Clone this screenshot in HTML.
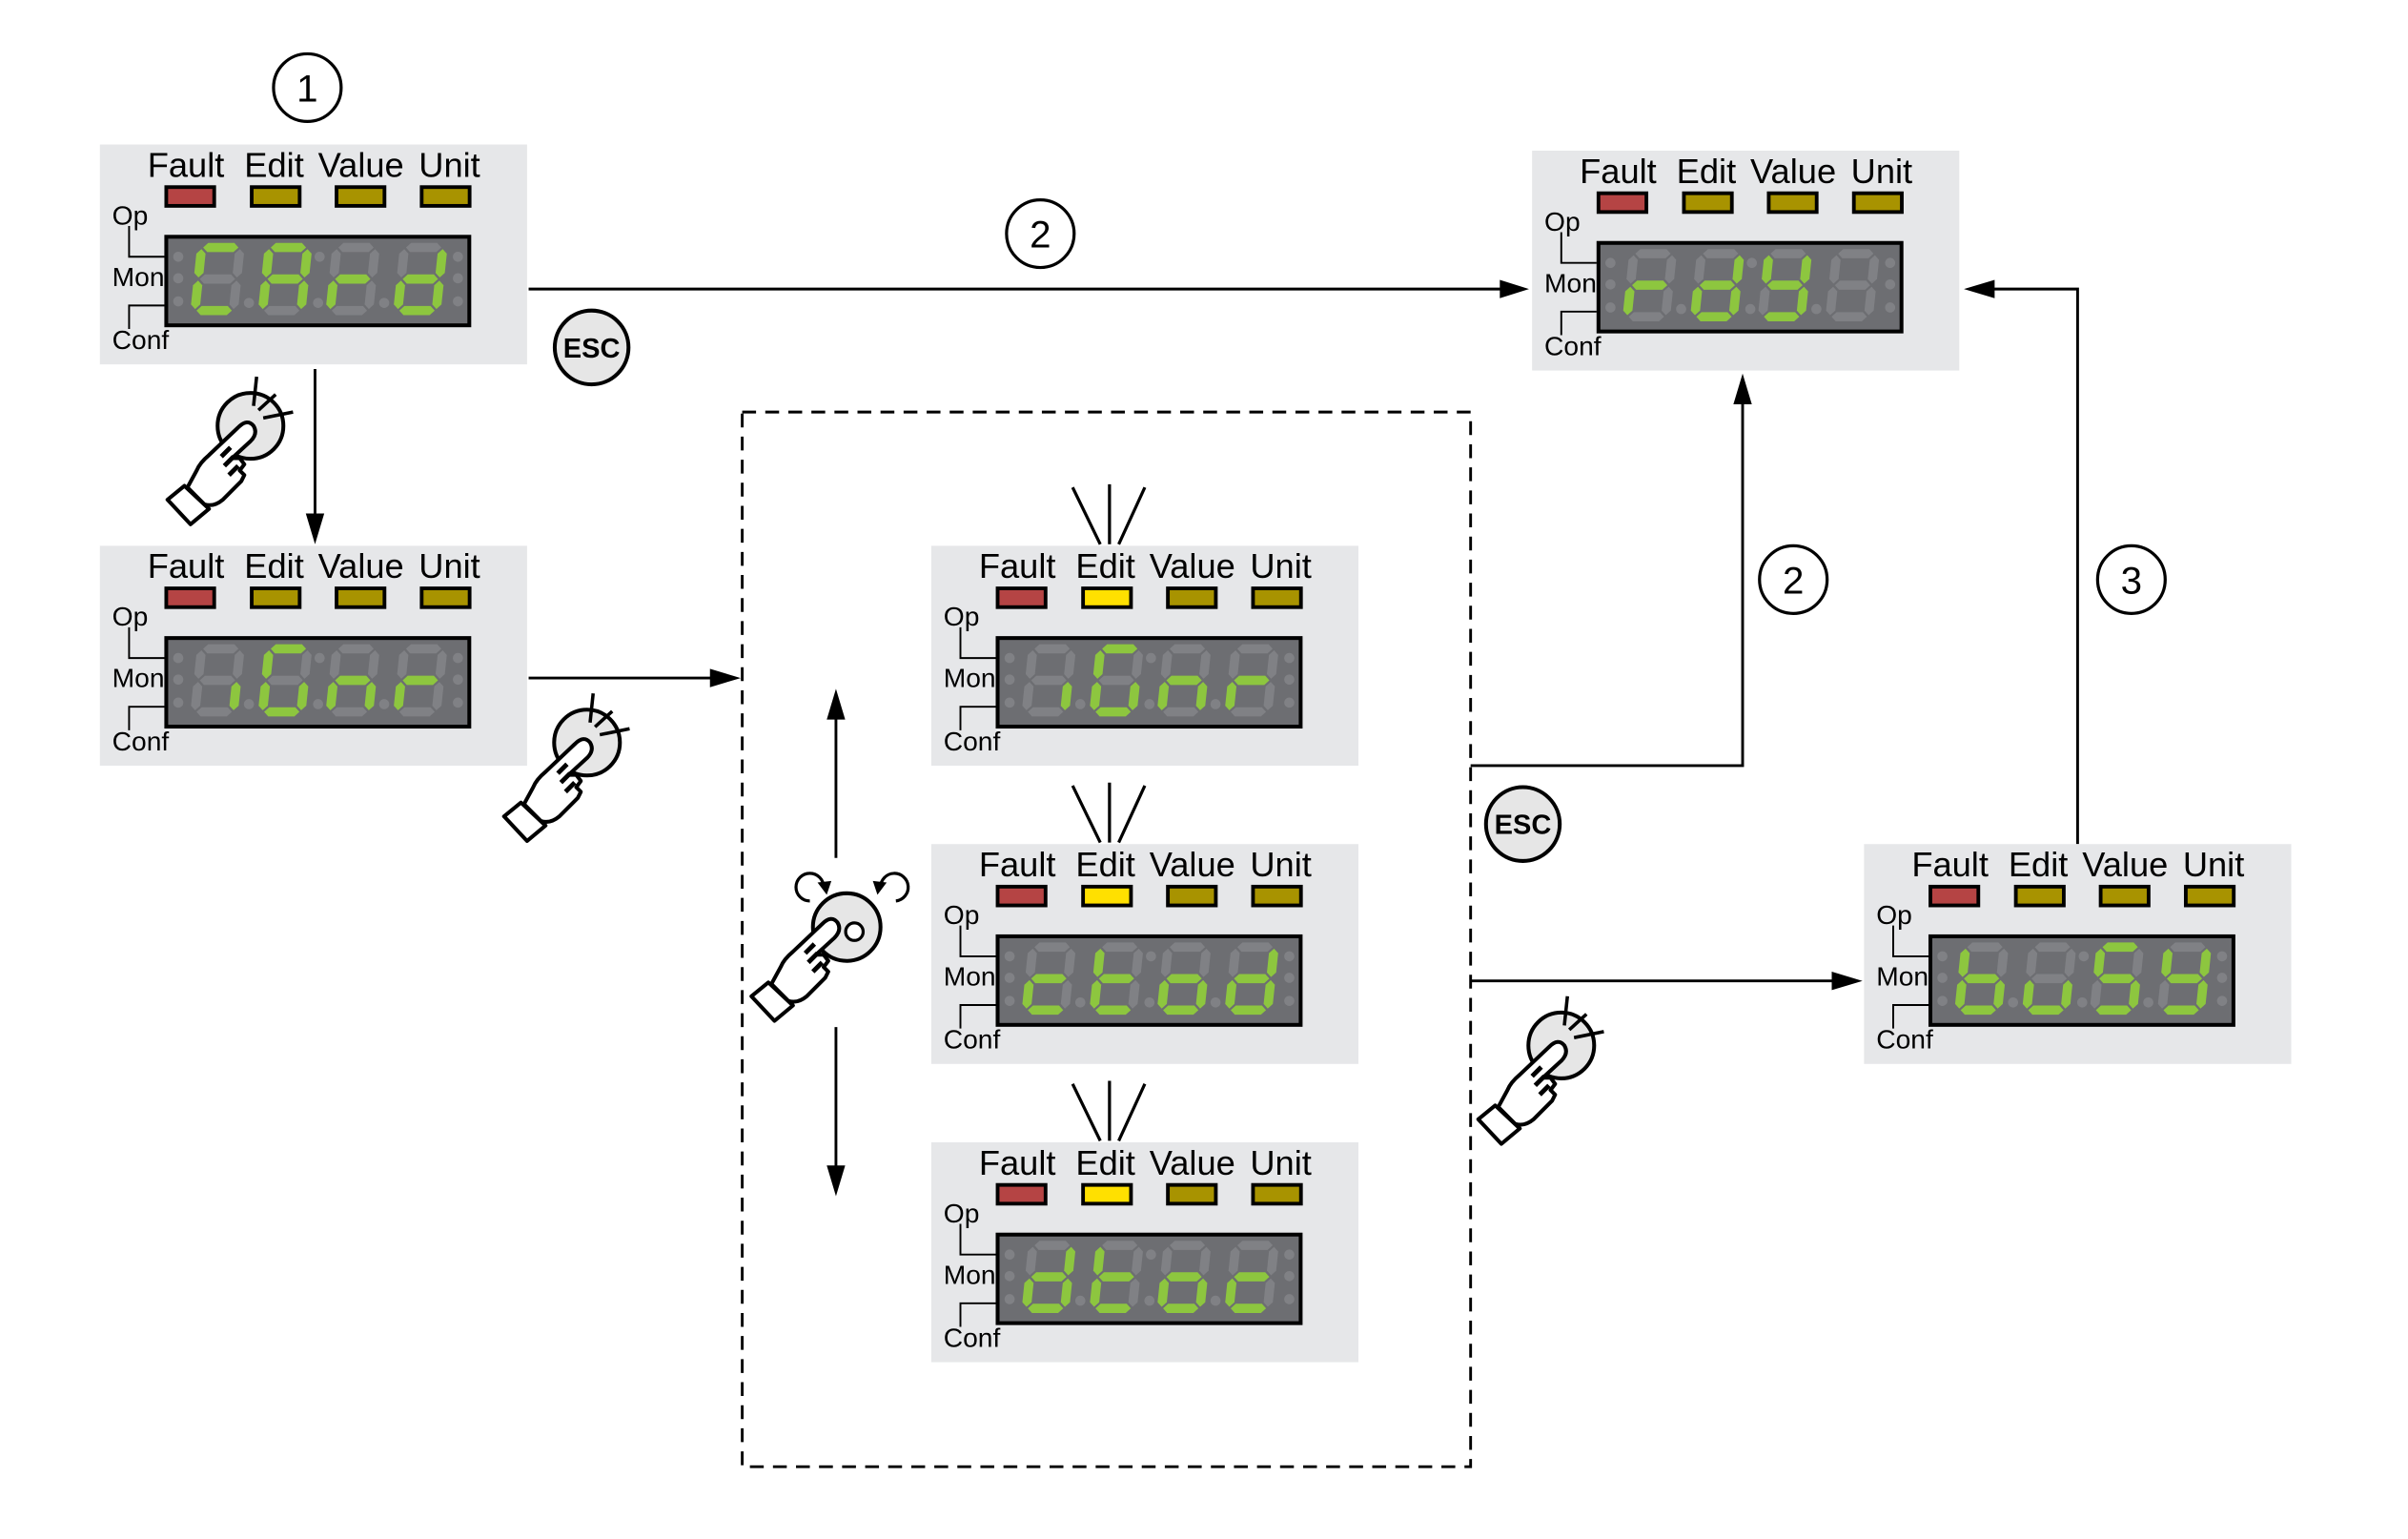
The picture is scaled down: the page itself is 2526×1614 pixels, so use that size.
<!DOCTYPE html>
<html><head><meta charset="utf-8"><style>
html,body{margin:0;padding:0;background:#fff;}
svg{display:block;}
text{font-family:"Liberation Sans",Arial,sans-serif;fill:#000;}
.lbl{font-size:22.5px;}
.sm{font-size:17.5px;}
.num{font-size:25px;}
.esc{font-size:18px;font-weight:bold;}
</style></head><body>
<svg id="s" width="2526" height="1614" viewBox="0 0 1567 1001" preserveAspectRatio="none" xmlns="http://www.w3.org/2000/svg">
<defs>
<g id="hand">
  <path d="M-51,50 L-36,66 L-24,56 L-40,41 Z" fill="#fff" stroke="#000" stroke-width="2.5" stroke-linejoin="round"/>
  <path d="M-38,42 L-32,31 Q-30,26 -24,21 L-5,3 Q1,-3 5,2 Q8,7 3,12 L-9,23 L-4,23 L-1,27 L-4,31 L-1,34 L-3,38 L-15,50 Q-21,55 -27,53 Z" fill="#fff" stroke="#000" stroke-width="2.5" stroke-linejoin="round"/>
  <path d="M-16,22 L-10,16 M-14,28 L-8,22 M-11,34 L-5,28" stroke="#000" stroke-width="3"/>
</g>
<g id="btn">
  <circle cx="0" cy="0" r="21.4" fill="#e6e6e6" stroke="#000" stroke-width="2.5"/>
</g>
<g id="spark">
  <path d="M7,-30 L5,-11 M19.4,-18.4 L8.2,-8.2 M30.7,-7 L11.3,-3.1" stroke="#000" stroke-width="2.2"/>
</g>
</defs>

<g stroke="#000" stroke-width="1.8" fill="none">
  <line x1="344" y1="188" x2="978" y2="188"/>
  <line x1="205" y1="240" x2="205" y2="336"/>
  <line x1="344" y1="441" x2="464" y2="441"/>
  <polyline points="957,498 1134,498 1134,262"/>
  <line x1="957" y1="638" x2="1194" y2="638"/>
  <polyline points="1352,549 1352,188 1296,188"/>
  <line x1="544" y1="558" x2="544" y2="466"/>
  <line x1="544" y1="668" x2="544" y2="760"/>
  <rect x="483" y="268" width="474" height="686" stroke-dasharray="9,6"/>
</g>
<g fill="#000">
  <polygon points="995,188 976,182 976,194"/>
  <polygon points="205,354 199,334 211,334"/>
  <polygon points="482,441 462,435 462,447"/>
  <polygon points="1134,243 1128,263 1140,263"/>
  <polygon points="1212,638 1192,632 1192,644"/>
  <polygon points="1278,188 1298,182 1298,194"/>
  <polygon points="544,448 538,468 550,468"/>
  <polygon points="544,778 538,758 550,758"/>
</g>

<g fill="none" stroke="#000" stroke-width="2">
  <circle cx="200" cy="57" r="22"/>
  <circle cx="677" cy="152" r="22"/>
  <circle cx="1167" cy="377" r="22"/>
  <circle cx="1387" cy="377" r="22"/>
</g>
<text class="num" x="200" y="66" text-anchor="middle">1</text>
<text class="num" x="677" y="161" text-anchor="middle">2</text>
<text class="num" x="1167" y="386" text-anchor="middle">2</text>
<text class="num" x="1387" y="386" text-anchor="middle">3</text>

<circle cx="385" cy="226" r="24" fill="#e6e6e6" stroke="#000" stroke-width="2.5"/>
<text class="esc" x="385" y="232.5" text-anchor="middle">ESC</text>
<circle cx="991" cy="536" r="24" fill="#e6e6e6" stroke="#000" stroke-width="2.5"/>
<text class="esc" x="991" y="542.5" text-anchor="middle">ESC</text>

<use href="#btn" x="163" y="277"/><use href="#hand" x="160" y="275"/><use href="#spark" x="160" y="275"/>
<use href="#btn" x="382" y="483"/><use href="#hand" x="379" y="481"/><use href="#spark" x="379" y="481"/>
<use href="#btn" x="1016" y="680"/><use href="#hand" x="1013" y="678"/><use href="#spark" x="1013" y="678"/>

<circle cx="551" cy="603" r="22" fill="#e6e6e6" stroke="#000" stroke-width="2.5"/>
<circle cx="556" cy="606" r="5.7" fill="#fff" stroke="#000" stroke-width="2"/>
<use href="#hand" x="540" y="598"/>
<g fill="none" stroke="#000" stroke-width="2">
  <path d="M527,586 A9,9 0 1 1 536,577"/>
  <path d="M583,586 A9,9 0 1 0 573,577"/>
</g>
<polygon points="538,582 532,574 541,573" fill="#000"/>
<polygon points="571,582 577,574 568,573" fill="#000"/>

<g stroke="#000" stroke-width="2">
  <path d="M698,317 L716,354 M722,315 L722,354 M745,317 L728,354"/>
  <path d="M698,511 L716,548 M722,509 L722,548 M745,511 L728,548"/>
  <path d="M698,705 L716,742 M722,703 L722,742 M745,705 L728,742"/>
</g>

<g id="p1" transform="translate(65,94)" data-edit="0" data-txt="CArd">
<text class="lbl" x="31" y="21">Fault</text><text class="lbl" x="94" y="21">Edit</text><text class="lbl" x="142" y="21">Value</text><text class="lbl" x="207.5" y="21">Unit</text>
<text class="sm" x="8" y="52">Op</text><text class="sm" x="8" y="92">Mon</text><text class="sm" x="8" y="133">Conf</text></g>
<g id="p2" transform="translate(65,355)" data-edit="0" data-txt="iGnr">
<text class="lbl" x="31" y="21">Fault</text><text class="lbl" x="94" y="21">Edit</text><text class="lbl" x="142" y="21">Value</text><text class="lbl" x="207.5" y="21">Unit</text>
<text class="sm" x="8" y="52">Op</text><text class="sm" x="8" y="92">Mon</text><text class="sm" x="8" y="133">Conf</text></g>
<g id="p3" transform="translate(997,98)" data-edit="0" data-txt="rdy ">
<text class="lbl" x="31" y="21">Fault</text><text class="lbl" x="94" y="21">Edit</text><text class="lbl" x="142" y="21">Value</text><text class="lbl" x="207.5" y="21">Unit</text>
<text class="sm" x="8" y="52">Op</text><text class="sm" x="8" y="92">Mon</text><text class="sm" x="8" y="133">Conf</text></g>
<g id="p4" transform="translate(606,355)" data-edit="1" data-txt="iGnr">
<text class="lbl" x="31" y="21">Fault</text><text class="lbl" x="94" y="21">Edit</text><text class="lbl" x="142" y="21">Value</text><text class="lbl" x="207.5" y="21">Unit</text>
<text class="sm" x="8" y="52">Op</text><text class="sm" x="8" y="92">Mon</text><text class="sm" x="8" y="133">Conf</text></g>
<g id="p5" transform="translate(606,549)" data-edit="1" data-txt="ctod">
<text class="lbl" x="31" y="21">Fault</text><text class="lbl" x="94" y="21">Edit</text><text class="lbl" x="142" y="21">Value</text><text class="lbl" x="207.5" y="21">Unit</text>
<text class="sm" x="8" y="52">Op</text><text class="sm" x="8" y="92">Mon</text><text class="sm" x="8" y="133">Conf</text></g>
<g id="p6" transform="translate(606,743)" data-edit="1" data-txt="dtoc">
<text class="lbl" x="31" y="21">Fault</text><text class="lbl" x="94" y="21">Edit</text><text class="lbl" x="142" y="21">Value</text><text class="lbl" x="207.5" y="21">Unit</text>
<text class="sm" x="8" y="52">Op</text><text class="sm" x="8" y="92">Mon</text><text class="sm" x="8" y="133">Conf</text></g>
<g id="p7" transform="translate(1213,549)" data-edit="0" data-txt="buSy">
<text class="lbl" x="31" y="21">Fault</text><text class="lbl" x="94" y="21">Edit</text><text class="lbl" x="142" y="21">Value</text><text class="lbl" x="207.5" y="21">Unit</text>
<text class="sm" x="8" y="52">Op</text><text class="sm" x="8" y="92">Mon</text><text class="sm" x="8" y="133">Conf</text></g>
</svg>
<script>
(function(){
var NS="http://www.w3.org/2000/svg";
function el(n,a){var e=document.createElementNS(NS,n);for(var k in a)e.setAttribute(k,a[k]);return e;}
var MAP={C:"adef",A:"abcefg",r:"eg",d:"bcdeg",i:"c",G:"acdef",n:"ceg",y:"bcdfg",c:"deg",t:"defg",o:"cdeg",b:"cdefg",u:"cde",S:"acdfg"," ":""};
var t=6;
function H(x1,x2,cy){return [[x1,cy],[x1+t/2,cy-t/2],[x2-t/2,cy-t/2],[x2,cy],[x2-t/2,cy+t/2],[x1+t/2,cy+t/2]];}
function V(cx,y1,y2){return [[cx,y1],[cx+t/2,y1+t/2],[cx+t/2,y2-t/2],[cx,y2],[cx-t/2,y2-t/2],[cx-t/2,y1+t/2]];}
var SEG={a:H(4,27,3),g:H(4,27,23.5),d:H(4,27,44),f:V(3,4,22.5),b:V(28,4,22.5),e:V(3,24.5,43),c:V(28,24.5,43)};
for(var i=1;i<=7;i++){
  var g=document.getElementById("p"+i);
  var edit=g.getAttribute("data-edit")=="1";
  var txt=g.getAttribute("data-txt");
  var first=g.firstChild;
  var bg=el("g",{});
  bg.appendChild(el("rect",{x:0,y:0,width:278,height:143,fill:"#e6e7e9"}));
  var cols=["#b54444",edit?"#ffe000":"#a89300","#a89300","#a89300"];
  var lx=[42,97.6,152.8,208.2];
  for(var j=0;j<4;j++)bg.appendChild(el("rect",{x:lx[j]+1.2,y:27.7,width:31.2,height:12.2,fill:cols[j],stroke:"#000","stroke-width":2.4}));
  bg.appendChild(el("rect",{x:43.2,y:60,width:197.2,height:57.6,fill:"#6d6e72",stroke:"#000","stroke-width":2.5}));
  bg.appendChild(el("polyline",{points:"19,53 19,73 42,73",fill:"none",stroke:"#000","stroke-width":1.2}));
  bg.appendChild(el("polyline",{points:"42,104.7 19,104.7 19,120",fill:"none",stroke:"#000","stroke-width":1.2}));
  var dots=[[51,73],[51,87],[51,102],[233,73],[233,87],[233,102],[97,103],[142,103],[143,73],[185,103]];
  dots.forEach(function(d){bg.appendChild(el("circle",{cx:d[0],cy:d[1],r:3.3,fill:"#808185"}));});
  var dx=[61,105,149,193];
  for(var k=0;k<4;k++){
    var on=MAP[txt[k]]||"";
    var dg=el("g",{transform:"translate("+(dx[k]+2.5)+",64) skewX(-6)"});
    "abcdefg".split("").forEach(function(s){
      var pts=SEG[s].map(function(p){return p[0]+","+p[1];}).join(" ");
      dg.appendChild(el("polygon",{points:pts,fill:on.indexOf(s)>=0?"#8dc63f":"#808185"}));
    });
    bg.appendChild(dg);
  }
  g.insertBefore(bg,first);
}
})();
</script>
</body></html>
